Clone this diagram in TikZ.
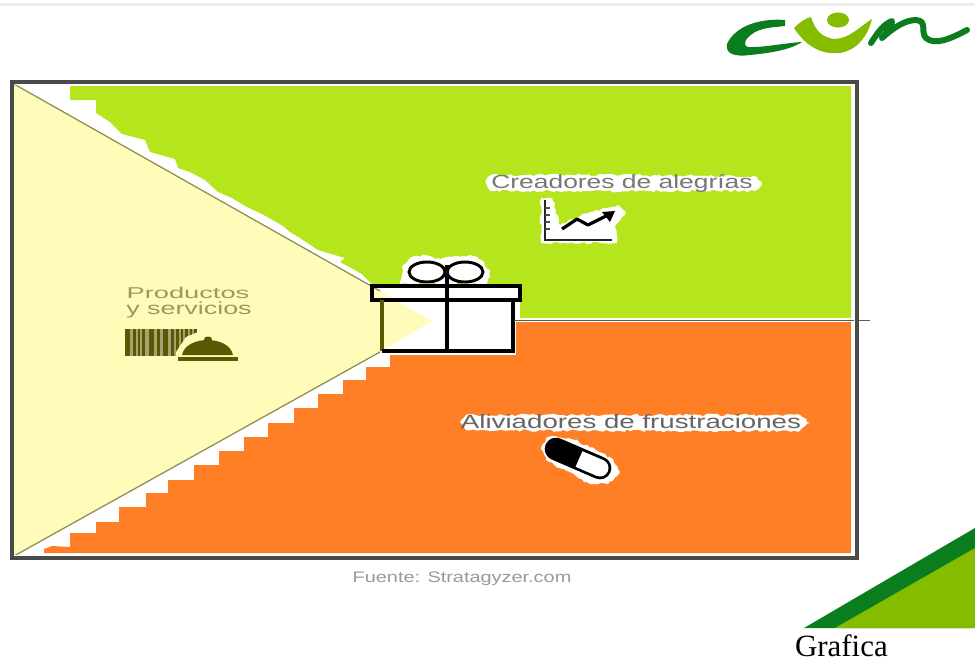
\documentclass[tikz,border=0pt]{standalone}
\usepackage{fontspec}
\usetikzlibrary{decorations.pathmorphing}
\setmainfont{Liberation Sans}
\newfontfamily\serifgraf{Liberation Serif}
\definecolor{framegray}{HTML}{4A4A4A}
\definecolor{limegreen}{HTML}{B5E61D}
\definecolor{orangefill}{HTML}{FF7F27}
\definecolor{paleyellow}{HTML}{FEFCB8}
\definecolor{olivedark}{HTML}{5A5800}
\definecolor{olivetext}{HTML}{9A9A60}
\definecolor{logodark}{HTML}{0A7D1E}
\definecolor{logolight}{HTML}{86BC00}
\definecolor{halotext}{HTML}{777777}
\tikzset{
  x=0.75pt,y=-0.75pt,
  stretched/.style={inner sep=0pt,outer sep=0pt,anchor=center},
  giftline/.style={draw=black,line width=2.4pt,line join=miter},
  halo/.style={fill=white,draw=none,decorate,decoration={random steps,segment length=2.5pt,amplitude=1pt}},
  logostroke/.style={draw=logodark,line cap=round,line join=round},
}
\newcommand{\fitted}[3]{\resizebox{#1pt}{#2pt}{#3}}
\begin{document}
\begin{tikzpicture}
\pgfmathsetseed{7}
\useasboundingbox (0,0) rectangle (975,661);
\fill[white] (0,0) rectangle (975,661);
\fill[black!7] (0,3) rectangle (975,6);

% logo
\fill[logodark] (785,20) .. controls (760,18) and (735,26) .. (727,44) .. controls (725,54) and (735,57) .. (750,55) .. controls (770,53) and (790,50) .. (802,42) .. controls (785,43) and (760,48) .. (748,47) .. controls (742,45) and (745,38) .. (755,32) .. controls (765,27) and (778,27) .. (785,26) -- cycle;
\fill[logolight] (794,28) .. controls (800,22) and (806,18) .. (811,17) .. controls (814,27) and (820,38) .. (835,39) .. controls (850,38) and (858,28) .. (872,19) .. controls (868,35) and (858,50) .. (840,53) .. controls (820,55) and (805,45) .. (794,28) -- cycle;
\fill[logolight] (838,20) ellipse (11 and 7.5);
\draw[logostroke,line width=4.5pt] (871,43) .. controls (878,32) and (884,24) .. (892,21) .. controls (892,28) and (886,33) .. (882,38) .. controls (893,28) and (905,20) .. (916,20) .. controls (928,21) and (920,32) .. (926,38) .. controls (935,46) and (952,38) .. (967,30);

% corner
\fill[logodark] (804,628) -- (975,528) -- (975,628) -- cycle;
\fill[logolight] (835,628) -- (975,548) -- (975,628) -- cycle;
\node[stretched,anchor=base west,font=\serifgraf\fontsize{23.2pt}{26pt}\selectfont] (grafica) at (795,656) {Grafica};

% panels
\fill[limegreen] (70,86) -- (851,86) -- (851,320) -- (520,320) -- (520,284) -- (372,284) -- (362,274) -- (340,262) -- (345,258) -- (318,250) -- (300,238) -- (290,232) -- (283,226) -- (262,214) -- (245,206) -- (232,198) -- (218,192) -- (205,180) -- (190,172) -- (178,168) -- (175,159) -- (150,152) -- (145,140) -- (122,134) -- (110,122) -- (96,113) -- (96,100) -- (70,100) -- cycle;
\fill[orangefill] (851,322) -- (851,553) -- (44,553) -- (44,549) -- (52,546) -- (70,547) -- (70,533) -- (96,533) -- (96,522) -- (119,522) -- (119,507) -- (146,507) -- (146,493) -- (168,493) -- (168,480) -- (194,480) -- (194,465) -- (219,465) -- (219,451) -- (244,451) -- (244,437) -- (268,437) -- (268,423) -- (294,423) -- (294,408) -- (318,408) -- (318,394) -- (343,394) -- (343,380) -- (366,380) -- (366,367) -- (390,367) -- (390,355) -- (516,355) -- (516,322) -- cycle;

% white halos
\fill[halo] (402,267) -- (410,258) -- (425,255) -- (440,259) -- (470,255) -- (481,260) -- (490,270) -- (487,284) -- (400,284) -- cycle;
\fill[halo] (486,180) -- (491,175) -- (620,175) -- (700,176) -- (757,177) -- (762,184) -- (755,191) -- (680,191) -- (490,191) -- cycle;
\fill[halo] (541,198) -- (552,198) -- (556,210) -- (560,225) -- (590,212) -- (618,205) -- (626,212) -- (616,224) -- (617,243) -- (541,243) -- cycle;
\fill[halo] (460,422) -- (466,415) -- (620,415) -- (800,415) -- (810,423) -- (800,431) -- (620,431) -- (466,430) -- cycle;
\fill[halo] (556,436) -- (546,438) -- (541,449) -- (546,460) -- (590,484) -- (608,484) -- (620,472) -- (613,459) -- (575,440) -- cycle;

% gift body under the triangle tip
\fill[white] (383,300) rectangle (513,350);
\fill[white] (372,285) rectangle (520,300);

% triangle
\fill[paleyellow] (14,84) -- (380,291) -- (432,321) -- (380,352) -- (14,556) -- cycle;
\draw[olivedark!70,line width=0.9pt] (14,84) -- (380,291);
\draw[olivedark!70,line width=0.9pt] (14,556) -- (380,352);

% gift lines
\draw[giftline,line width=2.8pt] (372,286) rectangle (520,300);
\draw[giftline,draw=olivedark] (382,300) -- (382,351);
\draw[giftline] (513,300) -- (513,351) -- (382,351);
\draw[giftline] (447,265) -- (447,351);
\draw[black,line width=2.2pt] (427,272) ellipse (18 and 10);
\draw[black,line width=2.2pt] (465,272) ellipse (18 and 10);

% divider
\draw[white,line width=0.9pt] (517,319) -- (851,319);
\draw[black!65,line width=1pt] (514,320.5) -- (870,320.5);

% frame
\draw[framegray,line width=3pt] (12,82) rectangle (857,558);

% labels
\node[stretched,text=halotext] (creadores) at (622,183) {\fitted{196}{10.5}{Creadores de alegrías}};
\node[stretched,text=halotext!85!black] (aliviadores) at (631,422) {\fitted{255}{10.5}{Aliviadores de frustraciones}};
\node[stretched,text=olivetext] (productos) at (188,293) {\fitted{92}{8.5}{Productos}};
\node[stretched,text=olivetext] (servicios) at (189,310) {\fitted{94}{9.5}{y servicios}};
\node[stretched,text=black!40] (fuente) at (462,579) {\fitted{164}{8}{Fuente: Stratagyzer.com}};

% chart icon
\draw[black!85,line width=2pt] (545,200) -- (545,240) -- (612,240);
\foreach \yy in {208,215,222,229}{\draw[black!70,line width=1pt] (545,\yy) -- (550,\yy);}
\draw[black,line width=2.4pt,line join=round] (562,229) -- (577,219) -- (588,225) -- (608,215);
\fill[black] (615,211) -- (602,212) -- (610,222) -- cycle;

% pill
\draw[black,line width=17pt,line cap=round] (556,449) -- (600,468);
\fill[white] (575.6,466.8) -- (582.4,451.2) -- (603.4,460.2) -- (596.6,475.8) -- cycle;
\fill[white] (600,468) circle (8.5);

% barcode and cloche
\fill[olivedark!55] (125,329) rectangle (197,356);
\foreach \xa/\wd in {125/5,133/3,138/2,142/3,149/5,157/3,163/5,171/3,176/3,181/2,185/3,190/2,194/3}{\fill[olivedark] (\xa,329) rectangle ++(\wd,27);}
\fill[paleyellow] (176,362) -- (176,352) -- (186,337) -- (198,332) -- (240,332) -- (240,362) -- cycle;
\fill[olivedark] (182,355) .. controls (186,335) and (229,335) .. (233,355) -- cycle;
\fill[olivedark] (208,339) ellipse (4 and 2.5);
\fill[olivedark] (178,356.5) rectangle (238,360.5);

% inner edge of frame
\draw[white,line width=0.8pt] (14.5,84.5) -- (854.5,84.5) -- (854.5,555.5) -- (14,555.5);
\end{tikzpicture}
\end{document}
